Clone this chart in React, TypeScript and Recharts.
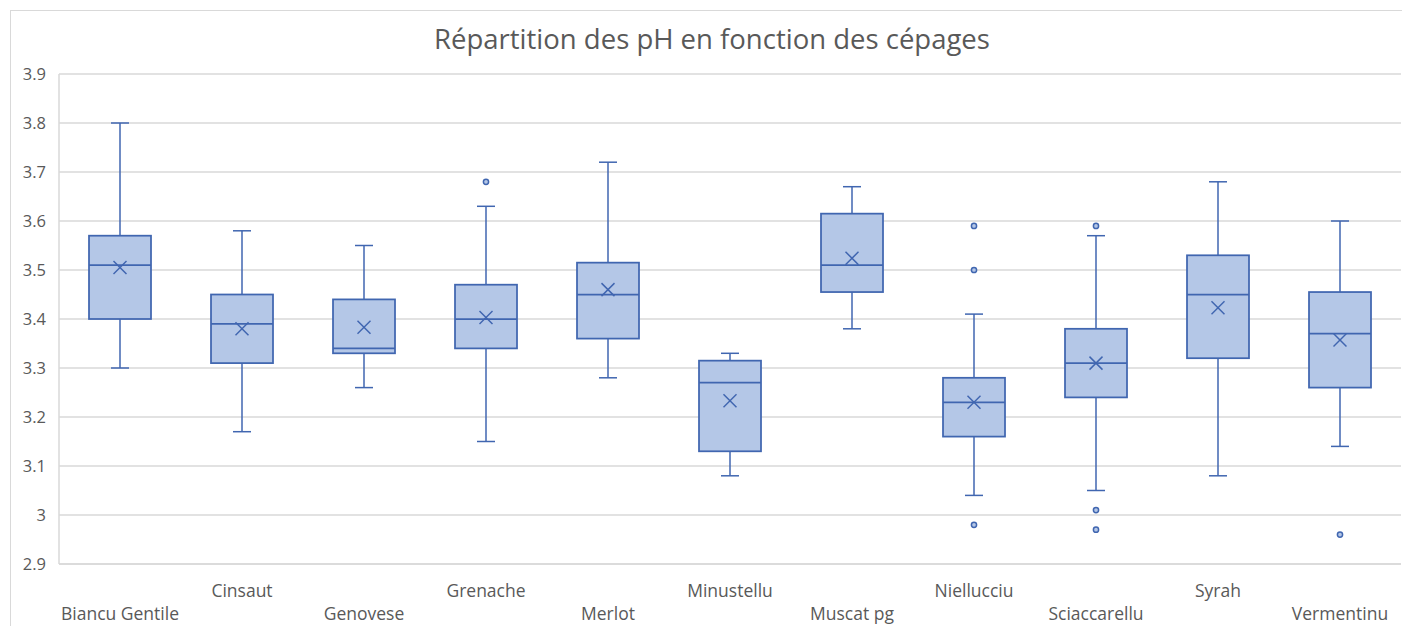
import React from "react";
import {
  ComposedChart,
  Bar,
  XAxis,
  YAxis,
  CartesianGrid,
} from "recharts";

const cepages = [
  "Biancu Gentile",
  "Cinsaut",
  "Genovese",
  "Grenache",
  "Merlot",
  "Minustellu",
  "Muscat pg",
  "Niellucciu",
  "Sciaccarellu",
  "Syrah",
  "Vermentinu",
];
const minimums = [3.3, 3.17, 3.26, 3.15, 3.28, 3.08, 3.38, 3.04, 3.05, 3.08, 3.14];
const quartiles1 = [3.4, 3.31, 3.33, 3.34, 3.36, 3.13, 3.455, 3.16, 3.24, 3.32, 3.26];
const medians = [3.51, 3.39, 3.34, 3.4, 3.45, 3.27, 3.51, 3.23, 3.31, 3.45, 3.37];
const quartiles3 = [3.57, 3.45, 3.44, 3.47, 3.515, 3.315, 3.615, 3.28, 3.38, 3.53, 3.455];
const maximums = [3.8, 3.58, 3.55, 3.63, 3.72, 3.33, 3.67, 3.41, 3.57, 3.68, 3.6];
const moyennes = [3.505, 3.38, 3.383, 3.403, 3.46, 3.233, 3.524, 3.23, 3.31, 3.423, 3.357];
const aberrants = [[], [], [], [3.68], [], [], [], [3.59, 3.5, 2.98], [3.59, 3.01, 2.97], [], [2.96]];
const yTicks = [2.9, 3, 3.1, 3.2, 3.3, 3.4, 3.5, 3.6, 3.7, 3.8, 3.9];

const data = cepages.map((name, i) => ({
  name,
  min: minimums[i],
  q1: quartiles1[i],
  median: medians[i],
  q3: quartiles3[i],
  max: maximums[i],
  mean: moyennes[i],
  outliers: aberrants[i],
  range: [minimums[i], maximums[i]],
}));

const STROKE = "#4066b0";
const FILL = "#b4c7e7";
const TEXT = "#595959";
const FONT = "'Open Sans', 'Noto Sans', sans-serif";

// box + whiskers drawn inside the [min, max] bar, positions scaled linearly from it
const BoxShape = (props: any) => {
  const { x, y, width, height, payload } = props;
  const top = Math.min(y, y + height);
  const h = Math.abs(height);
  const p = payload;
  const pix = (v: number) => top + (h * (p.max - v)) / (p.max - p.min);
  const cx = x + width / 2;
  const cap = 9;
  const m = 6.5;
  const ym = pix(p.mean);
  return (
    <g>
      <line x1={cx} x2={cx} y1={pix(p.max)} y2={pix(p.q3)} stroke={STROKE} strokeWidth={1.5} />
      <line x1={cx - cap} x2={cx + cap} y1={pix(p.max)} y2={pix(p.max)} stroke={STROKE} strokeWidth={1.5} />
      <line x1={cx} x2={cx} y1={pix(p.q1)} y2={pix(p.min)} stroke={STROKE} strokeWidth={1.5} />
      <line x1={cx - cap} x2={cx + cap} y1={pix(p.min)} y2={pix(p.min)} stroke={STROKE} strokeWidth={1.5} />
      <rect
        x={x}
        y={pix(p.q3)}
        width={width}
        height={pix(p.q1) - pix(p.q3)}
        fill={FILL}
        stroke={STROKE}
        strokeWidth={1.75}
      />
      <line x1={x} x2={x + width} y1={pix(p.median)} y2={pix(p.median)} stroke={STROKE} strokeWidth={1.75} />
      <line x1={cx - m} x2={cx + m} y1={ym - m} y2={ym + m} stroke={STROKE} strokeWidth={1.5} />
      <line x1={cx - m} x2={cx + m} y1={ym + m} y2={ym - m} stroke={STROKE} strokeWidth={1.5} />
      {p.outliers.map((v: number, k: number) => (
        <circle key={k} cx={cx} cy={pix(v)} r={2.6} fill={FILL} stroke={STROKE} strokeWidth={1.5} />
      ))}
    </g>
  );
};

const CepageTick = (props: any) => {
  const { x, y, payload, index } = props;
  return (
    <text
      x={x}
      y={y + (index % 2 === 0 ? 49 : 26)}
      textAnchor="middle"
      dominantBaseline="central"
      fill={TEXT}
      fontSize={17.5}
      fontFamily={FONT}
    >
      {payload.value}
    </text>
  );
};

export default function App() {
  return (
    <div
      style={{
        position: "absolute",
        left: 0,
        top: 0,
        width: 1402,
        height: 626,
        overflow: "hidden",
        background: "#fff",
      }}
    >
      {/* chart frame: only top and left edges fall inside the picture */}
      <div
        style={{
          position: "absolute",
          left: 10,
          top: 10,
          width: 1392,
          height: 1,
          background: "#d9d9d9",
        }}
      />
      <div
        style={{
          position: "absolute",
          left: 10,
          top: 10,
          width: 1,
          height: 616,
          background: "#d9d9d9",
        }}
      />
      <div
        style={{
          position: "absolute",
          left: 0,
          top: 20,
          width: 1424,
          textAlign: "center",
          fontFamily: FONT,
          fontSize: 27.5,
          color: TEXT,
        }}
      >
        Répartition des pH en fonction des cépages
      </div>
      <div style={{ position: "absolute", left: 0, top: 0 }}>
        <ComposedChart
          width={1402}
          height={626}
          data={data}
          margin={{ top: 74, right: 1, bottom: 2, left: 10 }}
        >
          <CartesianGrid vertical={false} stroke="#d9d9d9" strokeWidth={1.5} />
          <XAxis
            dataKey="name"
            interval={0}
            tickLine={false}
            axisLine={{ stroke: "#d9d9d9", strokeWidth: 1.5 }}
            tickSize={0}
            tickMargin={0}
            height={60}
            tick={<CepageTick />}
          />
          <YAxis
            type="number"
            domain={[2.9, 3.9]}
            ticks={yTicks}
            width={49}
            tickLine={false}
            tickSize={0}
            tickMargin={13}
            axisLine={{ stroke: "#d9d9d9", strokeWidth: 1.5 }}
            tick={{ fill: TEXT, fontSize: 16.5, fontFamily: FONT }}
          />
          <Bar
            dataKey="range"
            barSize={62}
            shape={<BoxShape />}
            isAnimationActive={false}
          />
        </ComposedChart>
      </div>
    </div>
  );
}
